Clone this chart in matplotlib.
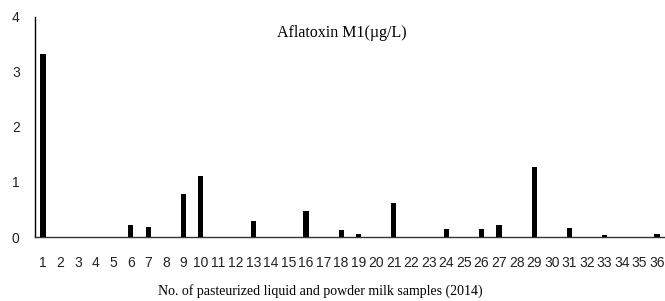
import matplotlib
matplotlib.use('Agg')
import matplotlib.pyplot as plt

#===============
#  Data
#===============
samples = list(range(1, 37))
afm1 = [3.33, 0, 0, 0, 0, 0.21, 0.19, 0, 0.78, 1.10,
        0, 0, 0.30, 0, 0, 0.48, 0, 0.12, 0.05, 0,
        0.62, 0, 0, 0.14, 0, 0.14, 0.22, 0, 1.28, 0,
        0.17, 0, 0.04, 0, 0, 0.05]
yticks = [0, 1, 2, 3, 4]

title = 'Aflatoxin M1(\u00b5g/L)'
xlabel = 'No. of pasteurized liquid and powder milk samples (2014)'

#===============
#  Figure
#===============
fig = plt.figure(figsize=(6.65, 3.01), dpi=100)
ax = fig.add_axes([0.0526, 0.2126, 0.9474, 0.731])

ax.bar(samples, afm1, width=0.3, color='black', zorder=3)

ax.set_xlim(0.544, 36.46)
ax.set_ylim(0, 4)
ax.set_xticks(samples)
ax.set_xticklabels([str(s) for s in samples], family='Liberation Sans', fontsize=10)
ax.set_yticks(yticks)
ax.set_yticklabels([str(t) for t in yticks], family='Liberation Sans', fontsize=10)
ax.tick_params(length=0, pad=14, axis='x', colors='#222222')
ax.tick_params(length=0, pad=11, axis='y', colors='#222222')

# only left and bottom lines
for side in ['top', 'right']:
    ax.spines[side].set_visible(False)
ax.spines['left'].set_linewidth(1.0)
ax.spines['bottom'].set_linewidth(1.0)
ax.spines['bottom'].set_color('#333333')

ax.text(0.487, 0.925, title, transform=ax.transAxes, ha='center', va='center',
        family='Liberation Serif', fontsize=11.5)
fig.text(0.482, 0.033, xlabel, ha='center', va='center',
         family='Liberation Serif', fontsize=10)

fig.savefig('out.png', dpi=100)
